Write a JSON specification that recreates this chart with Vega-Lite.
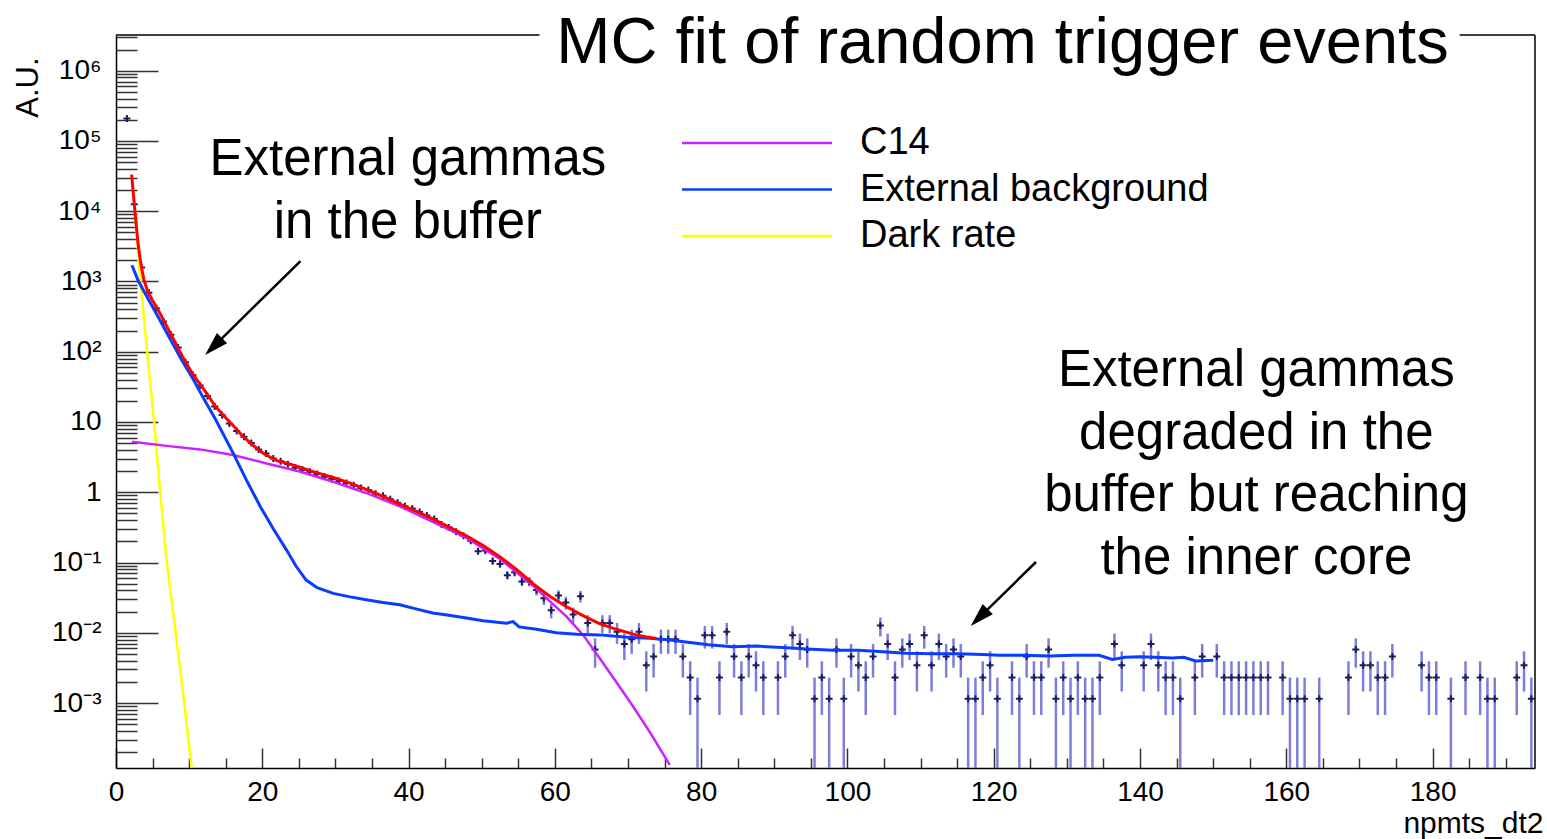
{
"$schema":"https://vega.github.io/schema/vega-lite/v6.json",
"width":1419,"height":733,
"autosize":{"type":"none"},
"padding":{"left":116,"top":35,"right":12,"bottom":71},
"background":"white",
"config":{"view":{"stroke":null},"axis":{"grid":false},"text":{"font":"Liberation Sans"}},
"datasets":{
"one":[{}],
"hist":[
{"x":1.5,"y":208930,"lo":208914,"hi":208946},
{"x":2.5,"y":12589,"lo":12585,"hi":12593},
{"x":3.5,"y":1585,"lo":1583.6,"hi":1586.4},
{"x":4.5,"y":691.8,"lo":690.9,"hi":692.7},
{"x":5.5,"y":416.9,"lo":416.2,"hi":417.6},
{"x":6.5,"y":269.2,"lo":268.6,"hi":269.8},
{"x":7.5,"y":173.8,"lo":173.35,"hi":174.25},
{"x":8.5,"y":114.8,"lo":114.44,"hi":115.16},
{"x":9.5,"y":70.79,"lo":70.5,"hi":71.08},
{"x":10.5,"y":46.77,"lo":46.54,"hi":47.0},
{"x":11.5,"y":33.11,"lo":32.92,"hi":33.3},
{"x":12.5,"y":23.44,"lo":23.28,"hi":23.6},
{"x":13.5,"y":16.6,"lo":16.46,"hi":16.74},
{"x":14.5,"y":12.59,"lo":12.47,"hi":12.71},
{"x":15.5,"y":9.55,"lo":9.445,"hi":9.655},
{"x":16.5,"y":7.413,"lo":7.321,"hi":7.505},
{"x":17.5,"y":6.166,"lo":6.082,"hi":6.25},
{"x":18.5,"y":5.012,"lo":4.936,"hi":5.088},
{"x":19.5,"y":4.074,"lo":4.006,"hi":4.142},
{"x":20.5,"y":3.548,"lo":3.484,"hi":3.612},
{"x":21.5,"y":3.02,"lo":2.961,"hi":3.079},
{"x":22.5,"y":2.754,"lo":2.698,"hi":2.81},
{"x":23.5,"y":2.512,"lo":2.458,"hi":2.566},
{"x":24.5,"y":2.239,"lo":2.188,"hi":2.29},
{"x":25.5,"y":2.089,"lo":2.04,"hi":2.138},
{"x":26.5,"y":1.95,"lo":1.903,"hi":1.997},
{"x":27.5,"y":1.82,"lo":1.774,"hi":1.866},
{"x":28.5,"y":1.66,"lo":1.616,"hi":1.704},
{"x":29.5,"y":1.549,"lo":1.507,"hi":1.591},
{"x":30.5,"y":1.445,"lo":1.404,"hi":1.486},
{"x":31.5,"y":1.349,"lo":1.31,"hi":1.388},
{"x":32.5,"y":1.259,"lo":1.221,"hi":1.297},
{"x":33.5,"y":1.148,"lo":1.112,"hi":1.184},
{"x":34.5,"y":1.072,"lo":1.037,"hi":1.107},
{"x":35.5,"y":0.955,"lo":0.922,"hi":0.988},
{"x":36.5,"y":0.891,"lo":0.859,"hi":0.923},
{"x":37.5,"y":0.794,"lo":0.764,"hi":0.824},
{"x":38.5,"y":0.708,"lo":0.68,"hi":0.736},
{"x":39.5,"y":0.631,"lo":0.604,"hi":0.658},
{"x":40.5,"y":0.589,"lo":0.563,"hi":0.615},
{"x":41.5,"y":0.525,"lo":0.5,"hi":0.55},
{"x":42.5,"y":0.468,"lo":0.445,"hi":0.491},
{"x":43.5,"y":0.417,"lo":0.395,"hi":0.439},
{"x":44.5,"y":0.347,"lo":0.327,"hi":0.367},
{"x":45.5,"y":0.316,"lo":0.297,"hi":0.335},
{"x":46.5,"y":0.275,"lo":0.257,"hi":0.293},
{"x":47.5,"y":0.24,"lo":0.223,"hi":0.257},
{"x":48.5,"y":0.204,"lo":0.189,"hi":0.219},
{"x":49.5,"y":0.1445,"lo":0.1316,"hi":0.1574},
{"x":50.5,"y":0.1479,"lo":0.1349,"hi":0.1609},
{"x":51.5,"y":0.1047,"lo":0.0937,"hi":0.1157},
{"x":52.5,"y":0.0955,"lo":0.085,"hi":0.106},
{"x":53.5,"y":0.0661,"lo":0.0574,"hi":0.0748},
{"x":54.5,"y":0.0724,"lo":0.0633,"hi":0.0815},
{"x":55.5,"y":0.0537,"lo":0.0458,"hi":0.0616},
{"x":56.5,"y":0.0537,"lo":0.0458,"hi":0.0616},
{"x":57.5,"y":0.0407,"lo":0.0339,"hi":0.0476},
{"x":58.5,"y":0.0309,"lo":0.0249,"hi":0.0369},
{"x":59.5,"y":0.0209,"lo":0.016,"hi":0.0258},
{"x":60.5,"y":0.0339,"lo":0.0276,"hi":0.0402},
{"x":61.5,"y":0.0269,"lo":0.0213,"hi":0.0325},
{"x":62.5,"y":0.0182,"lo":0.0136,"hi":0.0228},
{"x":63.5,"y":0.0331,"lo":0.0269,"hi":0.0393},
{"x":64.5,"y":0.0138,"lo":0.0098,"hi":0.0178},
{"x":65.5,"y":0.005755,"lo":0.003181,"hi":0.008329},
{"x":66.5,"y":0.013812,"lo":0.009825,"hi":0.017799},
{"x":67.5,"y":0.013812,"lo":0.009825,"hi":0.017799},
{"x":68.5,"y":0.010359,"lo":0.006906,"hi":0.013812},
{"x":69.5,"y":0.006906,"lo":0.004087,"hi":0.009725},
{"x":70.5,"y":0.008057,"lo":0.005012,"hi":0.011102},
{"x":71.5,"y":0.010359,"lo":0.006906,"hi":0.013812},
{"x":72.5,"y":0.003453,"lo":0.001459,"hi":0.005447},
{"x":73.5,"y":0.004604,"lo":0.002302,"hi":0.006906},
{"x":74.5,"y":0.008057,"lo":0.005012,"hi":0.011102},
{"x":75.5,"y":0.008057,"lo":0.005012,"hi":0.011102},
{"x":76.5,"y":0.008057,"lo":0.005012,"hi":0.011102},
{"x":77.5,"y":0.004604,"lo":0.002302,"hi":0.006906},
{"x":78.5,"y":0.002302,"lo":0.000674,"hi":0.00393},
{"x":79.5,"y":0.001151,"lo":0.00001,"hi":0.002302},
{"x":80.5,"y":0.009208,"lo":0.005952,"hi":0.012464},
{"x":81.5,"y":0.009208,"lo":0.005952,"hi":0.012464},
{"x":82.5,"y":0.002302,"lo":0.000674,"hi":0.00393},
{"x":83.5,"y":0.010359,"lo":0.006906,"hi":0.013812},
{"x":84.5,"y":0.004604,"lo":0.002302,"hi":0.006906},
{"x":85.5,"y":0.002302,"lo":0.000674,"hi":0.00393},
{"x":86.5,"y":0.004604,"lo":0.002302,"hi":0.006906},
{"x":87.5,"y":0.003453,"lo":0.001459,"hi":0.005447},
{"x":88.5,"y":0.002302,"lo":0.000674,"hi":0.00393},
{"x":90.5,"y":0.002302,"lo":0.000674,"hi":0.00393},
{"x":91.5,"y":0.004604,"lo":0.002302,"hi":0.006906},
{"x":92.5,"y":0.009208,"lo":0.005952,"hi":0.012464},
{"x":93.5,"y":0.006906,"lo":0.004087,"hi":0.009725},
{"x":94.5,"y":0.005755,"lo":0.003181,"hi":0.008329},
{"x":95.5,"y":0.001151,"lo":0.00001,"hi":0.002302},
{"x":96.5,"y":0.002302,"lo":0.000674,"hi":0.00393},
{"x":97.5,"y":0.001151,"lo":0.00001,"hi":0.002302},
{"x":98.5,"y":0.005755,"lo":0.003181,"hi":0.008329},
{"x":99.5,"y":0.001151,"lo":0.00001,"hi":0.002302},
{"x":100.5,"y":0.004604,"lo":0.002302,"hi":0.006906},
{"x":101.5,"y":0.003453,"lo":0.001459,"hi":0.005447},
{"x":102.5,"y":0.002302,"lo":0.000674,"hi":0.00393},
{"x":103.5,"y":0.004604,"lo":0.002302,"hi":0.006906},
{"x":104.5,"y":0.012661,"lo":0.008844,"hi":0.016478},
{"x":105.5,"y":0.006906,"lo":0.004087,"hi":0.009725},
{"x":106.5,"y":0.002302,"lo":0.000674,"hi":0.00393},
{"x":107.5,"y":0.005755,"lo":0.003181,"hi":0.008329},
{"x":108.5,"y":0.006906,"lo":0.004087,"hi":0.009725},
{"x":109.5,"y":0.003453,"lo":0.001459,"hi":0.005447},
{"x":110.5,"y":0.009208,"lo":0.005952,"hi":0.012464},
{"x":111.5,"y":0.003453,"lo":0.001459,"hi":0.005447},
{"x":112.5,"y":0.006906,"lo":0.004087,"hi":0.009725},
{"x":113.5,"y":0.004604,"lo":0.002302,"hi":0.006906},
{"x":114.5,"y":0.005755,"lo":0.003181,"hi":0.008329},
{"x":115.5,"y":0.004604,"lo":0.002302,"hi":0.006906},
{"x":116.5,"y":0.001151,"lo":0.00001,"hi":0.002302},
{"x":117.5,"y":0.001151,"lo":0.00001,"hi":0.002302},
{"x":118.5,"y":0.002302,"lo":0.000674,"hi":0.00393},
{"x":119.5,"y":0.003453,"lo":0.001459,"hi":0.005447},
{"x":120.5,"y":0.001151,"lo":0.00001,"hi":0.002302},
{"x":122.5,"y":0.002302,"lo":0.000674,"hi":0.00393},
{"x":123.5,"y":0.001151,"lo":0.00001,"hi":0.002302},
{"x":124.5,"y":0.004604,"lo":0.002302,"hi":0.006906},
{"x":125.5,"y":0.002302,"lo":0.000674,"hi":0.00393},
{"x":126.5,"y":0.002302,"lo":0.000674,"hi":0.00393},
{"x":127.5,"y":0.005755,"lo":0.003181,"hi":0.008329},
{"x":128.5,"y":0.001151,"lo":0.00001,"hi":0.002302},
{"x":129.5,"y":0.002302,"lo":0.000674,"hi":0.00393},
{"x":130.5,"y":0.001151,"lo":0.00001,"hi":0.002302},
{"x":131.5,"y":0.002302,"lo":0.000674,"hi":0.00393},
{"x":132.5,"y":0.001151,"lo":0.00001,"hi":0.002302},
{"x":133.5,"y":0.001151,"lo":0.00001,"hi":0.002302},
{"x":134.5,"y":0.002302,"lo":0.000674,"hi":0.00393},
{"x":136.5,"y":0.006906,"lo":0.004087,"hi":0.009725},
{"x":137.5,"y":0.003453,"lo":0.001459,"hi":0.005447},
{"x":140.5,"y":0.003453,"lo":0.001459,"hi":0.005447},
{"x":141.5,"y":0.006906,"lo":0.004087,"hi":0.009725},
{"x":142.5,"y":0.003453,"lo":0.001459,"hi":0.005447},
{"x":143.5,"y":0.002302,"lo":0.000674,"hi":0.00393},
{"x":144.5,"y":0.002302,"lo":0.000674,"hi":0.00393},
{"x":145.5,"y":0.001151,"lo":0.00001,"hi":0.002302},
{"x":147.5,"y":0.002302,"lo":0.000674,"hi":0.00393},
{"x":148.5,"y":0.004604,"lo":0.002302,"hi":0.006906},
{"x":150.5,"y":0.004604,"lo":0.002302,"hi":0.006906},
{"x":151.5,"y":0.002302,"lo":0.000674,"hi":0.00393},
{"x":152.5,"y":0.002302,"lo":0.000674,"hi":0.00393},
{"x":153.5,"y":0.002302,"lo":0.000674,"hi":0.00393},
{"x":154.5,"y":0.002302,"lo":0.000674,"hi":0.00393},
{"x":155.5,"y":0.002302,"lo":0.000674,"hi":0.00393},
{"x":156.5,"y":0.002302,"lo":0.000674,"hi":0.00393},
{"x":157.5,"y":0.002302,"lo":0.000674,"hi":0.00393},
{"x":159.5,"y":0.002302,"lo":0.000674,"hi":0.00393},
{"x":160.5,"y":0.001151,"lo":0.00001,"hi":0.002302},
{"x":161.5,"y":0.001151,"lo":0.00001,"hi":0.002302},
{"x":162.5,"y":0.001151,"lo":0.00001,"hi":0.002302},
{"x":164.5,"y":0.001151,"lo":0.00001,"hi":0.002302},
{"x":168.5,"y":0.002302,"lo":0.000674,"hi":0.00393},
{"x":169.5,"y":0.005755,"lo":0.003181,"hi":0.008329},
{"x":170.5,"y":0.003453,"lo":0.001459,"hi":0.005447},
{"x":171.5,"y":0.003453,"lo":0.001459,"hi":0.005447},
{"x":172.5,"y":0.002302,"lo":0.000674,"hi":0.00393},
{"x":173.5,"y":0.002302,"lo":0.000674,"hi":0.00393},
{"x":174.5,"y":0.004604,"lo":0.002302,"hi":0.006906},
{"x":178.5,"y":0.003453,"lo":0.001459,"hi":0.005447},
{"x":179.5,"y":0.002302,"lo":0.000674,"hi":0.00393},
{"x":180.5,"y":0.002302,"lo":0.000674,"hi":0.00393},
{"x":182.5,"y":0.001151,"lo":0.00001,"hi":0.002302},
{"x":184.5,"y":0.002302,"lo":0.000674,"hi":0.00393},
{"x":186.5,"y":0.002302,"lo":0.000674,"hi":0.00393},
{"x":187.5,"y":0.001151,"lo":0.00001,"hi":0.002302},
{"x":188.5,"y":0.001151,"lo":0.00001,"hi":0.002302},
{"x":191.5,"y":0.002302,"lo":0.000674,"hi":0.00393},
{"x":192.5,"y":0.003453,"lo":0.001459,"hi":0.005447},
{"x":193.5,"y":0.001151,"lo":0.00001,"hi":0.002302}
],
"curves":[
{"s":"Dark rate","x":2.14,"y":33113},
{"s":"Dark rate","x":2.6,"y":9550},
{"s":"Dark rate","x":3.2,"y":1585},
{"s":"Dark rate","x":3.8,"y":316.2},
{"s":"Dark rate","x":4.4,"y":70.79},
{"s":"Dark rate","x":5.2,"y":10.47},
{"s":"Dark rate","x":6.0,"y":1.122},
{"s":"Dark rate","x":6.93,"y":0.1047},
{"s":"Dark rate","x":8.16,"y":0.01},
{"s":"Dark rate","x":9.33,"y":0.001},
{"s":"Dark rate","x":10.34,"y":0.0001202},
{"s":"Dark rate","x":10.7,"y":0.0000562},
{"s":"C14","x":2.2,"y":5.248},
{"s":"C14","x":6.9,"y":4.571},
{"s":"C14","x":11.5,"y":4.074},
{"s":"C14","x":16.0,"y":3.388},
{"s":"C14","x":20.6,"y":2.57},
{"s":"C14","x":25.1,"y":1.972},
{"s":"C14","x":29.7,"y":1.413},
{"s":"C14","x":34.2,"y":0.977},
{"s":"C14","x":38.8,"y":0.631},
{"s":"C14","x":43.3,"y":0.38},
{"s":"C14","x":47.9,"y":0.224},
{"s":"C14","x":52.5,"y":0.1122},
{"s":"C14","x":57.0,"y":0.0468},
{"s":"C14","x":61.6,"y":0.017},
{"s":"C14","x":64.0,"y":0.00891},
{"s":"C14","x":66.1,"y":0.00437},
{"s":"C14","x":68.4,"y":0.001995},
{"s":"C14","x":70.7,"y":0.000891},
{"s":"C14","x":73.2,"y":0.000355},
{"s":"C14","x":75.7,"y":0.000132},
{"s":"External background","x":2.18,"y":1698},
{"s":"External background","x":3.0,"y":1047},
{"s":"External background","x":3.87,"y":707.9},
{"s":"External background","x":5.47,"y":354.8},
{"s":"External background","x":7.2,"y":166},
{"s":"External background","x":9.0,"y":75.86},
{"s":"External background","x":10.5,"y":41.69},
{"s":"External background","x":11.9,"y":22.39},
{"s":"External background","x":13.6,"y":10.96},
{"s":"External background","x":16.0,"y":3.631},
{"s":"External background","x":17.8,"y":1.514},
{"s":"External background","x":19.7,"y":0.631},
{"s":"External background","x":21.5,"y":0.302},
{"s":"External background","x":23.3,"y":0.1514},
{"s":"External background","x":24.6,"y":0.0891},
{"s":"External background","x":26.0,"y":0.0562},
{"s":"External background","x":27.5,"y":0.0437},
{"s":"External background","x":29.7,"y":0.0363},
{"s":"External background","x":32.0,"y":0.0324},
{"s":"External background","x":34.2,"y":0.0295},
{"s":"External background","x":36.5,"y":0.0269},
{"s":"External background","x":38.8,"y":0.0251},
{"s":"External background","x":41.0,"y":0.0219},
{"s":"External background","x":43.3,"y":0.0191},
{"s":"External background","x":45.5,"y":0.0178},
{"s":"External background","x":47.9,"y":0.0162},
{"s":"External background","x":50.2,"y":0.0148},
{"s":"External background","x":53.4,"y":0.0137},
{"s":"External background","x":54.3,"y":0.0144},
{"s":"External background","x":55.1,"y":0.0121},
{"s":"External background","x":57.5,"y":0.0112},
{"s":"External background","x":60.2,"y":0.01},
{"s":"External background","x":63.0,"y":0.00955},
{"s":"External background","x":66.1,"y":0.00933},
{"s":"External background","x":69.5,"y":0.00871},
{"s":"External background","x":72.9,"y":0.00832},
{"s":"External background","x":75.5,"y":0.00794},
{"s":"External background","x":77.9,"y":0.00741},
{"s":"External background","x":81.0,"y":0.00676},
{"s":"External background","x":84.3,"y":0.00631},
{"s":"External background","x":87.5,"y":0.00646},
{"s":"External background","x":91.1,"y":0.00617},
{"s":"External background","x":94.5,"y":0.00589},
{"s":"External background","x":98.0,"y":0.00562},
{"s":"External background","x":101.5,"y":0.00562},
{"s":"External background","x":104.8,"y":0.00537},
{"s":"External background","x":108.0,"y":0.00513},
{"s":"External background","x":111.7,"y":0.00501},
{"s":"External background","x":115.0,"y":0.00501},
{"s":"External background","x":118.5,"y":0.0049},
{"s":"External background","x":120.8,"y":0.00479},
{"s":"External background","x":124.0,"y":0.00479},
{"s":"External background","x":127.6,"y":0.00468},
{"s":"External background","x":131.0,"y":0.00479},
{"s":"External background","x":134.4,"y":0.00479},
{"s":"External background","x":136.2,"y":0.00417},
{"s":"External background","x":138.0,"y":0.00447},
{"s":"External background","x":139.9,"y":0.00457},
{"s":"External background","x":142.0,"y":0.00447},
{"s":"External background","x":144.4,"y":0.00437},
{"s":"External background","x":146.0,"y":0.00447},
{"s":"External background","x":147.6,"y":0.00398},
{"s":"External background","x":150.0,"y":0.00407},
{"s":"Total","x":2.14,"y":33113},
{"s":"Total","x":2.6,"y":9550},
{"s":"Total","x":3.0,"y":3548},
{"s":"Total","x":3.4,"y":1778},
{"s":"Total","x":3.8,"y":1072},
{"s":"Total","x":4.3,"y":741.3},
{"s":"Total","x":5.0,"y":537},
{"s":"Total","x":5.9,"y":371.5},
{"s":"Total","x":7.2,"y":204.2},
{"s":"Total","x":9.1,"y":85.1},
{"s":"Total","x":10.5,"y":47.86},
{"s":"Total","x":12.3,"y":26.3},
{"s":"Total","x":13.6,"y":16.6},
{"s":"Total","x":15.0,"y":11.48},
{"s":"Total","x":16.2,"y":8.51},
{"s":"Total","x":17.3,"y":6.31},
{"s":"Total","x":18.5,"y":4.9},
{"s":"Total","x":19.5,"y":3.98},
{"s":"Total","x":20.5,"y":3.39},
{"s":"Total","x":22.0,"y":2.818},
{"s":"Total","x":23.5,"y":2.57},
{"s":"Total","x":25.0,"y":2.291},
{"s":"Total","x":27.4,"y":1.905},
{"s":"Total","x":29.7,"y":1.622},
{"s":"Total","x":32.0,"y":1.349},
{"s":"Total","x":34.2,"y":1.096},
{"s":"Total","x":36.5,"y":0.871},
{"s":"Total","x":38.8,"y":0.676},
{"s":"Total","x":41.0,"y":0.537},
{"s":"Total","x":43.3,"y":0.417},
{"s":"Total","x":45.6,"y":0.316},
{"s":"Total","x":47.9,"y":0.24},
{"s":"Total","x":50.2,"y":0.174},
{"s":"Total","x":52.5,"y":0.1202},
{"s":"Total","x":54.8,"y":0.0794},
{"s":"Total","x":57.0,"y":0.0501},
{"s":"Total","x":59.3,"y":0.0331},
{"s":"Total","x":61.6,"y":0.0234},
{"s":"Total","x":63.9,"y":0.0174},
{"s":"Total","x":66.1,"y":0.0135},
{"s":"Total","x":68.4,"y":0.0112},
{"s":"Total","x":70.7,"y":0.00955},
{"s":"Total","x":72.5,"y":0.00871},
{"s":"Total","x":73.9,"y":0.00832}
]
},
"layer":[
{"data":{"name":"hist"},
 "mark":{"type":"rule","clip":true,"color":"#6767d2","strokeWidth":2.5,"opacity":0.85},
 "encoding":{
  "x":{"field":"x","type":"quantitative","scale":{"domain":[0,194],"nice":false,"zero":false},
   "axis":{"orient":"bottom","values":[0,20,40,60,80,100,120,140,160,180],"ticks":false,"tickSize":0,"domain":true,"domainColor":"#000","domainWidth":1.5,"labelFont":"Liberation Sans","labelFontSize":28,"labelColor":"#000","labelPadding":10,"labelFlush":false,"labelOverlap":false,"labelBound":false,"grid":false,
   "title":"npmts_dt2","titleFont":"Liberation Sans","titleFontSize":30,"titleFontWeight":"normal","titleColor":"#000","titleX":1427,"titleY":55,"titleAlign":"right","titleBaseline":"middle","titleAngle":0}},
  "y":{"field":"lo","type":"quantitative","scale":{"type":"log","domain":[0.0001189,3220000],"nice":false},
   "axis":{"orient":"left","values":[0.001,0.01,0.1,1,10,100,1000,10000,100000,1000000],"ticks":false,"tickSize":0,"domain":true,"domainColor":"#000","domainWidth":1.5,"labelFont":"Liberation Sans","labelFontSize":28,"labelColor":"#000","labelPadding":15,"labelFlush":false,"labelOverlap":false,"labelBound":false,"grid":false,
   "labelExpr":"['10⁻³','10⁻²','10⁻¹','1','10','10²','10³','10⁴','10⁵','10⁶'][round(log(datum.value)/LN10)+3]",
   "title":"A.U.","titleFont":"Liberation Sans","titleFontSize":31,"titleFontWeight":"normal","titleColor":"#000","titleAngle":-90,"titleAlign":"right","titleBaseline":"middle","titleX":-88,"titleY":22}},
  "y2":{"field":"hi"}
 }},
{"data":{"name":"hist"},
 "mark":{"type":"point","shape":"M-1,0H1M0,-1V1","size":49,"filled":false,"stroke":"#1c1c60","strokeWidth":2,"opacity":1,"clip":true},
 "encoding":{
  "x":{"field":"x","type":"quantitative","scale":{"domain":[0,194],"nice":false,"zero":false},
   "axis":{"orient":"bottom","values":[0,20,40,60,80,100,120,140,160,180],"domain":false,"labels":false,"ticks":true,"tickSize":-20,"tickColor":"#333","tickWidth":1.5,"grid":false,"title":null}},
  "y":{"field":"y","type":"quantitative","scale":{"type":"log","domain":[0.0001189,3220000],"nice":false},
   "axis":{"orient":"left","values":[0.001,0.01,0.1,1,10,100,1000,10000,100000,1000000],"domain":false,"labels":false,"ticks":true,"tickSize":-42,"tickColor":"#333","tickWidth":1.5,"grid":false,"title":null}}
 }},
{"data":{"name":"curves"},"transform":[{"filter":"datum.s == 'Dark rate'"}],
 "mark":{"type":"line","color":"#ffff00","strokeWidth":2.5,"clip":true},
 "encoding":{
  "x":{"field":"x","type":"quantitative","scale":{"domain":[0,194],"nice":false,"zero":false},
   "axis":{"orient":"bottom","values":[5,10,15,25,30,35,45,50,55,65,70,75,85,90,95,105,110,115,125,130,135,145,150,155,165,170,175,185,190],"domain":false,"labels":false,"ticks":true,"tickSize":-10,"tickColor":"#333","tickWidth":1.5,"grid":false,"title":null}},
  "y":{"field":"y","type":"quantitative","scale":{"type":"log","domain":[0.0001189,3220000],"nice":false},
   "axis":{"orient":"left","values":[0.0002,0.0003,0.0004,0.0005,0.0006,0.0007,0.0008,0.0009,0.002,0.003,0.004,0.005,0.006,0.007,0.008,0.009,0.02,0.03,0.04,0.05,0.06,0.07,0.08,0.09,0.2,0.3,0.4,0.5,0.6,0.7,0.8,0.9,2,3,4,5,6,7,8,9,20,30,40,50,60,70,80,90,200,300,400,500,600,700,800,900,2000,3000,4000,5000,6000,7000,8000,9000,20000,30000,40000,50000,60000,70000,80000,90000,200000,300000,400000,500000,600000,700000,800000,900000,2000000,3000000],"domain":false,"labels":false,"ticks":true,"tickSize":-21,"tickColor":"#333","tickWidth":1.5,"grid":false,"title":null}}
 }},
{"data":{"name":"curves"},"transform":[{"filter":"datum.s == 'C14'"}],
 "mark":{"type":"line","strokeWidth":2.5,"clip":true},
 "encoding":{
  "x":{"field":"x","type":"quantitative","scale":{"domain":[0,194],"nice":false,"zero":false},"axis":null},
  "y":{"field":"y","type":"quantitative","scale":{"type":"log","domain":[0.0001189,3220000],"nice":false},"axis":null},
  "color":{"field":"s","type":"nominal","scale":{"domain":["C14","External background","Dark rate","Total"],"range":["#cc22ff","#0a3cff","#ffff00","#ff0000"]},
   "legend":{"values":["C14","External background","Dark rate"],"title":null,"orient":"none","legendX":622,"legendY":89,"padding":0,"symbolType":"M-7.5,0H7.5","symbolSize":400,"symbolStrokeWidth":2.5,"labelFont":"Liberation Sans","labelFontSize":38,"labelColor":"#000","labelOffset":84,"labelLimit":0,"rowPadding":8.5}}
 }},
{"data":{"name":"curves"},"transform":[{"filter":"datum.s == 'External background'"}],
 "mark":{"type":"line","color":"#0a3cff","strokeWidth":3,"clip":true},
 "encoding":{
  "x":{"field":"x","type":"quantitative","scale":{"domain":[0,194],"nice":false,"zero":false},"axis":null},
  "y":{"field":"y","type":"quantitative","scale":{"type":"log","domain":[0.0001189,3220000],"nice":false},"axis":null}
 }},
{"data":{"name":"curves"},"transform":[{"filter":"datum.s == 'Total'"}],
 "mark":{"type":"line","color":"#ff0000","strokeWidth":3,"clip":true},
 "encoding":{
  "x":{"field":"x","type":"quantitative","scale":{"domain":[0,194],"nice":false,"zero":false},"axis":null},
  "y":{"field":"y","type":"quantitative","scale":{"type":"log","domain":[0.0001189,3220000],"nice":false},"axis":null}
 }},
{"data":{"name":"one"},"mark":{"type":"rule","color":"#000","strokeWidth":1.5},
 "encoding":{"x":{"datum":0,"type":"quantitative","axis":null},"x2":{"datum":57.9},"y":{"datum":3220000,"type":"quantitative","axis":null}}},
{"data":{"name":"one"},"mark":{"type":"rule","color":"#000","strokeWidth":1.5},
 "encoding":{"x":{"datum":183.7,"type":"quantitative","axis":null},"x2":{"datum":194},"y":{"datum":3220000,"type":"quantitative","axis":null}}},
{"data":{"name":"one"},"mark":{"type":"rule","color":"#000","strokeWidth":1.5},
 "encoding":{"x":{"datum":194,"type":"quantitative","axis":null},"y":{"datum":0.0001189,"type":"quantitative","axis":null},"y2":{"datum":3220000}}},
{"data":{"name":"one"},"mark":{"type":"text","text":"MC fit of random trigger events","font":"Liberation Sans","fontSize":65,"align":"center","baseline":"alphabetic","color":"#000"},
 "encoding":{"x":{"datum":121.2,"type":"quantitative","axis":null},"y":{"datum":1288000,"type":"quantitative","axis":null}}},
{"data":{"name":"one"},"mark":{"type":"text","text":["External gammas","in the buffer"],"lineHeight":63,"font":"Liberation Sans","fontSize":51,"align":"center","baseline":"alphabetic","color":"#000"},
 "encoding":{"x":{"datum":39.9,"type":"quantitative","axis":null},"y":{"datum":32800,"type":"quantitative","axis":null}}},
{"data":{"name":"one"},"mark":{"type":"text","text":["External gammas","degraded in the","buffer but reaching","the inner core"],"lineHeight":62.7,"font":"Liberation Sans","fontSize":51,"align":"center","baseline":"alphabetic","color":"#000"},
 "encoding":{"x":{"datum":155.9,"type":"quantitative","axis":null},"y":{"datum":32.5,"type":"quantitative","axis":null}}},
{"data":{"name":"one"},"mark":{"type":"rule","color":"#000","strokeWidth":2.5},
 "encoding":{"x":{"datum":25.22,"type":"quantitative","axis":null},"x2":{"datum":13.34},"y":{"datum":1954,"type":"quantitative","axis":null},"y2":{"datum":118.3}}},
{"data":{"name":"one"},"mark":{"type":"point","shape":"M0,-1L0.6,1L-0.6,1Z","size":576,"filled":true,"color":"#000","opacity":1,"angle":225},
 "encoding":{"x":{"datum":13.34,"type":"quantitative","axis":null},"y":{"datum":118.3,"type":"quantitative","axis":null}}},
{"data":{"name":"one"},"mark":{"type":"rule","color":"#000","strokeWidth":2.5},
 "encoding":{"x":{"datum":125.78,"type":"quantitative","axis":null},"x2":{"datum":118.02},"y":{"datum":0.1016,"type":"quantitative","axis":null},"y2":{"datum":0.01644}}},
{"data":{"name":"one"},"mark":{"type":"point","shape":"M0,-1L0.6,1L-0.6,1Z","size":576,"filled":true,"color":"#000","opacity":1,"angle":225},
 "encoding":{"x":{"datum":118.02,"type":"quantitative","axis":null},"y":{"datum":0.01644,"type":"quantitative","axis":null}}}
],
"resolve":{"axis":{"x":"independent","y":"independent"}}
}
